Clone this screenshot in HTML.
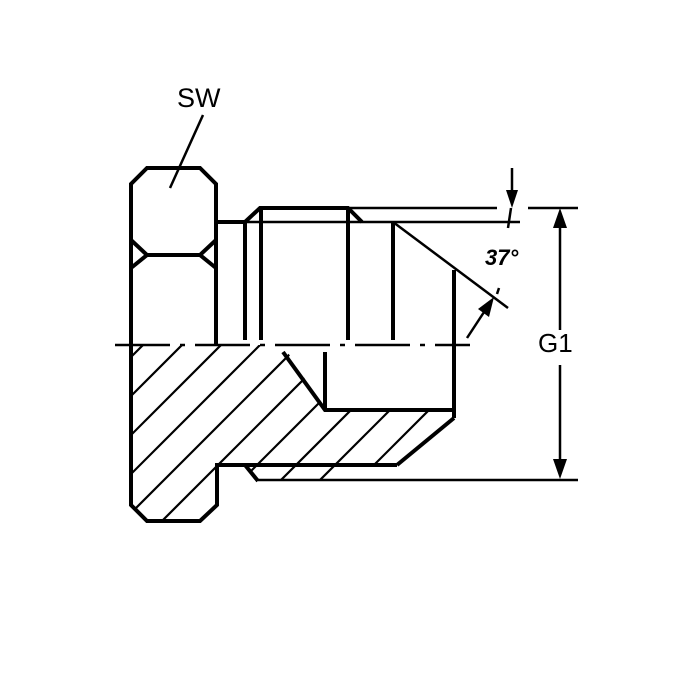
<!DOCTYPE html>
<html><head><style>html,body{margin:0;padding:0;background:#fff;}svg{display:block}</style></head>
<body>
<svg width="700" height="700" viewBox="0 0 700 700" xmlns="http://www.w3.org/2000/svg">
<defs>
<clipPath id="hc">
<polygon points="130,345 283,345 325,410 454,410 454,418 397,465 360,465 350,481 258,481 245,465 218,465 218,505 200,521 147,521 130,505"/>
</clipPath>
</defs>
<g clip-path="url(#hc)" stroke="#000" stroke-width="2.2">
<line x1="-290" y1="700" x2="410" y2="0"/>
<line x1="-251" y1="700" x2="449" y2="0"/>
<line x1="-212" y1="700" x2="488" y2="0"/>
<line x1="-173" y1="700" x2="527" y2="0"/>
<line x1="-134" y1="700" x2="566" y2="0"/>
<line x1="-95" y1="700" x2="605" y2="0"/>
<line x1="-56" y1="700" x2="644" y2="0"/>
<line x1="-17" y1="700" x2="683" y2="0"/>
<line x1="22" y1="700" x2="722" y2="0"/>
<line x1="61" y1="700" x2="761" y2="0"/>
<line x1="100" y1="700" x2="800" y2="0"/>
<line x1="139" y1="700" x2="839" y2="0"/>
<line x1="178" y1="700" x2="878" y2="0"/>
<line x1="217" y1="700" x2="917" y2="0"/>
<line x1="256" y1="700" x2="956" y2="0"/>
</g>
<g stroke="#000" stroke-width="4" fill="none" stroke-linejoin="miter">
<polyline points="131,345 131,184 147,168 200,168 216,184 216,345"/>
<line x1="147" y1="255" x2="200" y2="255"/>
<polyline points="131,240 147,255 131,268"/>
<polyline points="216,240 200,255 216,268"/>
<line x1="216" y1="222" x2="245" y2="222"/>
<line x1="245" y1="222" x2="245" y2="340"/>
<polyline points="245,222 260,208 348,208 362,222"/>
<line x1="261" y1="208" x2="261" y2="340"/>
<line x1="348" y1="208" x2="348" y2="340"/>
<line x1="393" y1="222" x2="393" y2="340"/>
<line x1="454" y1="270" x2="454" y2="418"/>
<polyline points="131,345 131,505 147,521 200,521 217,505 217,465 245,465 258,481"/>
<line x1="245" y1="465" x2="397" y2="465"/>
<line x1="397" y1="465" x2="454" y2="418"/>
<polyline points="283,352 325,410 454,410"/>
<line x1="325" y1="352" x2="325" y2="410"/>
</g>
<g stroke="#000" stroke-width="2.5" fill="none">
<line x1="216" y1="222" x2="520" y2="222"/>
<line x1="260" y1="208" x2="497" y2="208"/>
<line x1="528" y1="208" x2="578" y2="208"/>
<line x1="258" y1="480" x2="578" y2="480"/>
<line x1="393" y1="222" x2="508" y2="308"/>
<line x1="115" y1="345" x2="470" y2="345" stroke-dasharray="55,10,5,10"/>
<line x1="203" y1="115" x2="170" y2="188"/>
<line x1="560" y1="225" x2="560" y2="330"/>
<line x1="560" y1="365" x2="560" y2="462"/>
<line x1="512" y1="168" x2="512" y2="192"/>
<line x1="511" y1="208" x2="508" y2="228"/>
<line x1="467" y1="338" x2="488" y2="306"/>
<line x1="497" y1="294" x2="499" y2="288"/>
</g>
<g fill="#000">
<polygon points="560,208 553,228 567,228"/>
<polygon points="560,479 553,459 567,459"/>
<polygon points="512,208 506,190 518,190"/>
<polygon points="494,297 478,309 489,317"/>
</g>
<g font-family="Liberation Sans, sans-serif" fill="#000">
<text x="177" y="107" font-size="27">SW</text>
<text x="538" y="352" font-size="26">G1</text>
<text x="485" y="265" font-size="22" font-style="italic" font-weight="bold">37°</text>
</g>
</svg>
</body></html>
